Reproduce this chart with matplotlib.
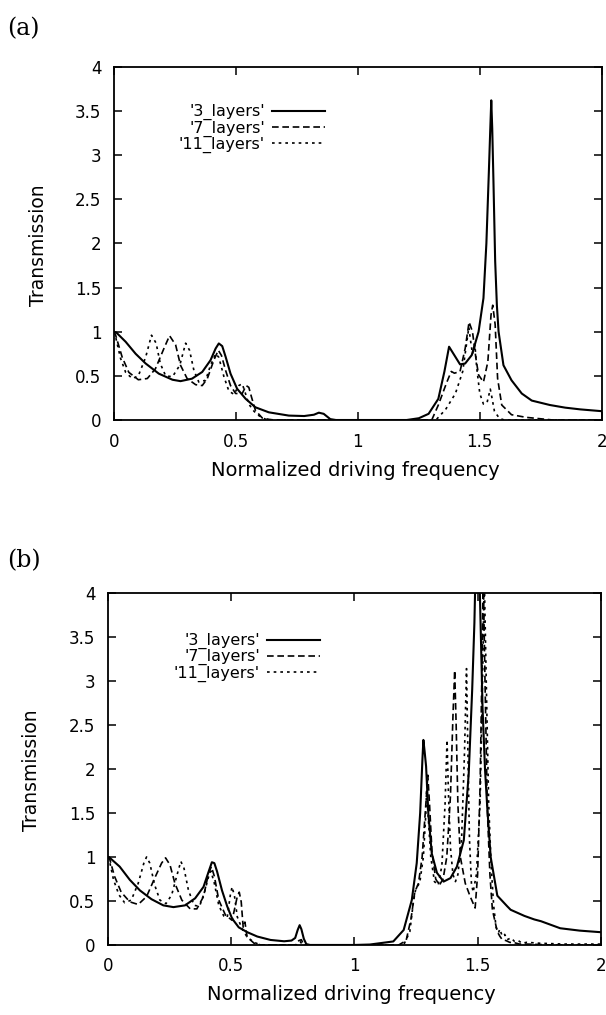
import numpy as np
import matplotlib
matplotlib.use("Agg")
import matplotlib.pyplot as plt
from matplotlib.ticker import FormatStrFormatter, MultipleLocator

# ---- panel (a) ----
a3_x = [0.0, 0.01, 0.048, 0.089, 0.13, 0.184, 0.24, 0.273, 0.32, 0.362, 0.396, 0.417, 0.43, 0.444,
        0.458, 0.478, 0.505, 0.54, 0.58, 0.635, 0.717, 0.78, 0.82, 0.84, 0.86, 0.887, 0.91, 1.0,
        1.1, 1.2, 1.25, 1.29, 1.33, 1.355, 1.374, 1.392, 1.419, 1.44, 1.467, 1.495, 1.515, 1.527,
        1.537, 1.543, 1.547, 1.551, 1.556, 1.563, 1.57, 1.577, 1.597, 1.63, 1.672, 1.713, 1.787,
        1.85, 1.913, 2.0]
a3_y = [1.0, 0.99, 0.886, 0.75, 0.64, 0.525, 0.456, 0.44, 0.468, 0.544, 0.677, 0.81, 0.867, 0.837,
        0.715, 0.525, 0.354, 0.24, 0.144, 0.087, 0.05, 0.045, 0.06, 0.083, 0.07, 0.01, 0.0, 0.0,
        0.0, 0.0, 0.02, 0.07, 0.24, 0.55, 0.83, 0.75, 0.63, 0.64, 0.735, 1.0, 1.38, 2.0,
        2.8, 3.3, 3.62, 3.3, 2.7, 1.8, 1.3, 1.0, 0.62, 0.45, 0.3, 0.22, 0.17,
        0.14, 0.12, 0.1]

a7_x = [0.0, 0.007, 0.034, 0.061, 0.1, 0.137, 0.17, 0.205, 0.228, 0.253, 0.273, 0.3, 0.335, 0.362,
        0.383, 0.41, 0.428, 0.441, 0.458, 0.478, 0.499, 0.526, 0.542, 0.553, 0.564, 0.58, 0.608,
        0.649, 0.7, 1.28, 1.303, 1.33, 1.365, 1.383, 1.396, 1.419, 1.44, 1.456, 1.47, 1.484,
        1.495, 1.515, 1.533, 1.546, 1.553, 1.563, 1.573, 1.59, 1.63, 1.69, 1.8, 2.0]
a7_y = [1.0, 0.96, 0.71, 0.54, 0.456, 0.47, 0.58, 0.81, 0.955, 0.85, 0.62, 0.47, 0.40, 0.39,
        0.47, 0.68, 0.79, 0.73, 0.56, 0.39, 0.30, 0.30, 0.39, 0.37, 0.26, 0.11, 0.023,
        0.0, 0.0, 0.0, 0.0, 0.17, 0.43, 0.55, 0.53, 0.55, 0.81, 1.11, 1.0, 0.70,
        0.51, 0.43, 0.66, 1.19, 1.30, 1.08, 0.47, 0.17, 0.06, 0.03, 0.0, 0.0]

a11_x = [0.0, 0.007, 0.027, 0.048, 0.075, 0.1, 0.13, 0.154, 0.173, 0.19, 0.212, 0.24, 0.27, 0.294,
         0.31, 0.328, 0.348, 0.376, 0.396, 0.417, 0.43, 0.451, 0.471, 0.492, 0.512, 0.526, 0.537,
         0.553, 0.574, 0.594, 0.62, 0.66, 1.3, 1.32, 1.36, 1.40, 1.43, 1.445, 1.455, 1.462, 1.47,
         1.48, 1.487, 1.50, 1.515, 1.53, 1.543, 1.55, 1.56, 1.58, 1.6, 2.0]
a11_y = [1.0, 0.94, 0.7, 0.54, 0.47, 0.5, 0.71, 0.96, 0.87, 0.64, 0.5, 0.49, 0.62, 0.87,
         0.79, 0.56, 0.43, 0.45, 0.62, 0.75, 0.71, 0.49, 0.33, 0.29, 0.39, 0.41, 0.32,
         0.18, 0.1, 0.05, 0.01, 0.0, 0.0, 0.0, 0.12, 0.3, 0.55, 0.85, 1.05, 0.9, 0.75,
         0.85, 0.6, 0.3, 0.18, 0.2, 0.35, 0.25, 0.1, 0.02, 0.0, 0.0]

# ---- panel (b) ----
b3_x = [0.0, 0.004, 0.048, 0.089, 0.13, 0.177, 0.225, 0.266, 0.313, 0.354, 0.388, 0.409, 0.422,
        0.432, 0.443, 0.463, 0.484, 0.504, 0.531, 0.565, 0.606, 0.66, 0.715, 0.745, 0.76, 0.77,
        0.778, 0.785, 0.795, 0.805, 0.82, 1.0, 1.063, 1.158, 1.2, 1.233, 1.253, 1.267, 1.276,
        1.28, 1.285, 1.291, 1.30, 1.314, 1.335, 1.362, 1.39, 1.416, 1.444, 1.464, 1.478, 1.487,
        1.492, 1.50, 1.51, 1.52, 1.53, 1.539, 1.553, 1.58, 1.62, 1.634, 1.69, 1.73, 1.757, 1.835,
        1.914, 2.0]
b3_y = [1.0, 1.0, 0.89, 0.74, 0.62, 0.52, 0.45, 0.43, 0.45, 0.53, 0.66, 0.835, 0.94,
        0.93, 0.835, 0.62, 0.44, 0.30, 0.2, 0.146, 0.096, 0.057, 0.042, 0.05, 0.08, 0.17,
        0.225, 0.18, 0.07, 0.01, 0.0, 0.0, 0.005, 0.04, 0.17, 0.51, 0.93, 1.5, 2.1,
        2.33, 2.2, 2.03, 1.5, 1.04, 0.82, 0.72, 0.76, 0.89, 1.19, 1.95, 2.9, 3.66,
        4.3, 5.0, 3.9, 2.7, 2.0, 1.57, 1.0, 0.56, 0.44, 0.40, 0.33, 0.29, 0.27, 0.19,
        0.163, 0.145]

b7_x = [0.0, 0.007, 0.027, 0.054, 0.089, 0.123, 0.157, 0.19, 0.218, 0.234, 0.252, 0.272, 0.3,
        0.334, 0.361, 0.388, 0.409, 0.42, 0.432, 0.45, 0.477, 0.504, 0.525, 0.533, 0.541, 0.549,
        0.556, 0.565, 0.593, 0.62, 0.76, 0.775, 0.785, 0.795, 1.18, 1.21, 1.23, 1.245, 1.26,
        1.275, 1.29, 1.298, 1.305, 1.315, 1.33, 1.345, 1.36, 1.375, 1.39, 1.40, 1.407, 1.413,
        1.42, 1.43, 1.45, 1.47, 1.49, 1.50, 1.51, 1.518, 1.523, 1.53, 1.54, 1.55, 1.56, 1.58,
        1.59, 1.6, 1.615, 1.63, 1.65, 1.67, 1.7, 1.8, 2.0]
b7_y = [1.0, 0.98, 0.78, 0.6, 0.49, 0.46, 0.55, 0.76, 0.93, 0.99, 0.91, 0.70, 0.51,
        0.41, 0.41, 0.55, 0.82, 0.89, 0.78, 0.51, 0.34, 0.28, 0.55, 0.6, 0.49, 0.2,
        0.26, 0.09, 0.02, 0.0, 0.0, 0.05, 0.06, 0.0, 0.0, 0.05, 0.3, 0.6, 0.7,
        1.0, 1.6, 1.93, 1.6, 1.05, 0.75, 0.68, 0.75, 1.0, 1.7, 2.6, 3.12, 2.5,
        1.6, 1.0, 0.7, 0.55, 0.42, 0.8, 1.8, 3.2, 4.2, 3.0, 1.5, 0.8, 0.4, 0.15,
        0.1, 0.06, 0.05, 0.03, 0.025, 0.01, 0.01, 0.0, 0.0]

b11_x = [0.0, 0.007, 0.023, 0.045, 0.068, 0.095, 0.123, 0.146, 0.157, 0.17, 0.19, 0.211, 0.236,
         0.259, 0.279, 0.296, 0.309, 0.327, 0.35, 0.372, 0.391, 0.409, 0.418, 0.432, 0.45, 0.47,
         0.484, 0.497, 0.504, 0.514, 0.525, 0.545, 0.565, 0.593, 0.62, 0.765, 0.78, 0.79, 1.2,
         1.225, 1.24, 1.25, 1.265, 1.28, 1.29, 1.293, 1.31, 1.325, 1.34, 1.355, 1.368, 1.376,
         1.382, 1.39, 1.40, 1.41, 1.42, 1.435, 1.447, 1.455, 1.46, 1.467, 1.475, 1.482, 1.495,
         1.51, 1.52, 1.527, 1.535, 1.545, 1.555, 1.565, 1.575, 1.585, 1.59, 1.6, 1.61, 1.62,
         1.635, 1.65, 1.665, 1.68, 1.7, 1.75, 1.85, 2.0]
b11_y = [1.0, 0.95, 0.74, 0.57, 0.48, 0.51, 0.70, 0.93, 1.0, 0.93, 0.68, 0.51, 0.47,
         0.57, 0.78, 0.95, 0.87, 0.62, 0.45, 0.44, 0.59, 0.78, 0.84, 0.70, 0.45, 0.33,
         0.31, 0.57, 0.66, 0.55, 0.32, 0.18, 0.09, 0.03, 0.0, 0.0, 0.04, 0.0, 0.0,
         0.15, 0.5, 0.65, 0.7, 1.0, 1.5, 1.75, 1.0, 0.72, 0.68, 0.9, 1.6, 2.33,
         1.7, 1.1, 0.8, 0.72, 0.8, 1.2, 2.2, 3.14, 2.3, 1.2, 0.7, 0.6, 0.8,
         1.6, 3.0, 4.2, 3.0, 1.6, 0.9, 0.45, 0.2, 0.14, 0.18, 0.1, 0.12, 0.06,
         0.08, 0.04, 0.05, 0.02, 0.03, 0.02, 0.01, 0.01]

labels = ["'3_layers'", "'7_layers'", "'11_layers'"]
x_ticks = [0, 0.5, 1, 1.5, 2]

plt.rcParams['font.family'] = ['DejaVu Sans']

fig = plt.figure(figsize=(6.06, 10.15), dpi=100)

panels = [
    dict(rect=[0.188, 0.5862, 0.805, 0.348], tag='(a)', tag_y=0.972,
         data=[(a3_x, a3_y), (a7_x, a7_y), (a11_x, a11_y)], leg=(0.432, 0.894)),
    dict(rect=[0.178, 0.069, 0.8135, 0.3468], tag='(b)', tag_y=0.448,
         data=[(b3_x, b3_y), (b7_x, b7_y), (b11_x, b11_y)], leg=(0.43, 0.886)),
]

styles = [
    dict(color='black', lw=1.5, linestyle='-'),
    dict(color='black', lw=1.2, linestyle=(0, (4.0, 2.2))),
    dict(color='black', lw=1.2, linestyle=(0, (1.6, 2.4))),
]

for p in panels:
    ax = fig.add_axes(p['rect'])
    handles = []
    for (xs, ys), st, lab in zip(p['data'], styles, labels):
        h, = ax.plot(xs, ys, label=lab, **st)
        handles.append(h)
    ax.set_xlim(0, 2)
    ax.set_ylim(0, 4)
    ax.set_xticks(x_ticks)
    ax.yaxis.set_major_locator(MultipleLocator(0.5))
    ax.xaxis.set_major_formatter(FormatStrFormatter('%g'))
    ax.yaxis.set_major_formatter(FormatStrFormatter('%g'))
    ax.tick_params(direction='in', length=6, width=1.1, top=True, right=True,
                   labelsize=12, pad=9)
    for s in ax.spines.values():
        s.set_linewidth(1.3)
    ax.set_xlabel('Normalized driving frequency', fontsize=14)
    ax.set_ylabel('Transmission', fontsize=13.5)
    ax.xaxis.set_label_coords(0.494, -0.115)
    ax.yaxis.set_label_coords(-0.135, 0.496)
    ax.legend(handles=handles, markerfirst=False, frameon=False, loc='upper right',
              bbox_to_anchor=p['leg'], fontsize=11.5, handlelength=3.3,
              handletextpad=0.45, labelspacing=0.0, borderpad=0, borderaxespad=0)
    fig.text(0.012, p['tag_y'], p['tag'], fontsize=17, family='DejaVu Serif',
             ha='left', va='center')

fig.savefig('out.png', dpi=100)
